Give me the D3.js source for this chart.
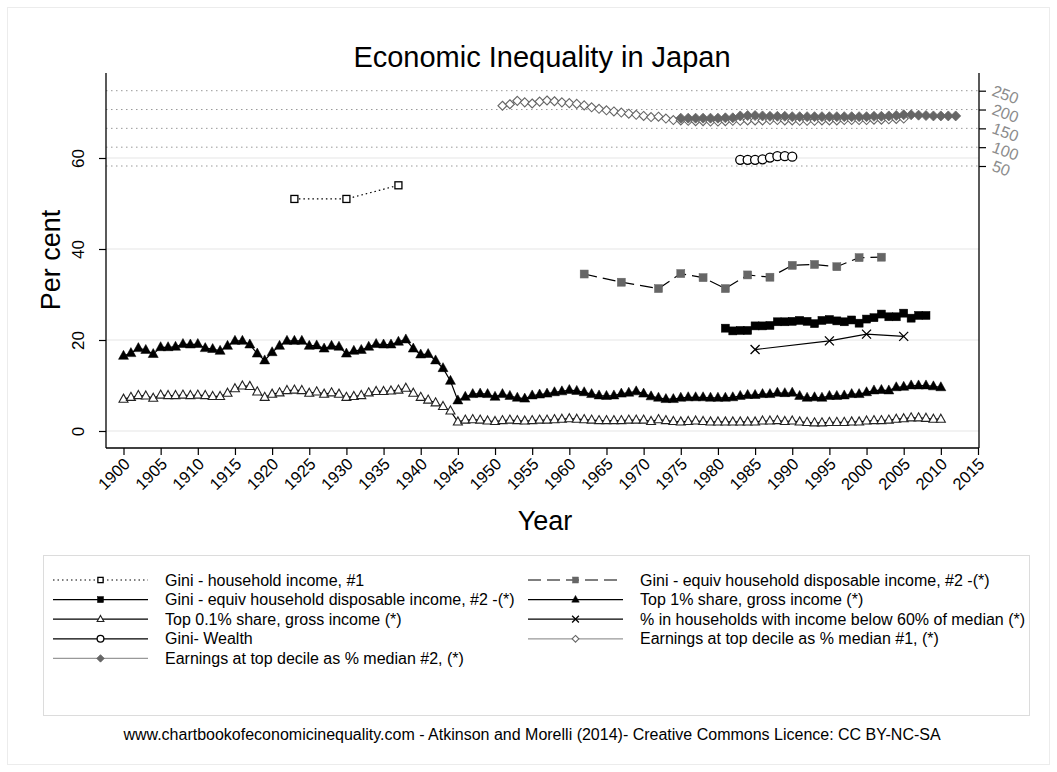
<!DOCTYPE html>
<html><head><meta charset="utf-8">
<script src="https://cdn.jsdelivr.net/npm/d3@7"></script>
<style>
html,body{margin:0;padding:0;background:#fff;}
svg{display:block;font-family:"Liberation Sans",Arial,Helvetica,sans-serif;}
</style></head>
<body><svg id="chart" width="1057" height="772"></svg>
<script>
// ---------- DATA ----------
const title = "Economic Inequality in Japan";
const xTicks = d3.range(1900, 2016, 5);
const yLeftTicks = [0, 20, 40, 60];
const yRightTicks = [50, 100, 150, 200, 250];

const giniHH1Years = [1923, 1930, 1937];
const giniHH1 = [51, 51, 54];

const giniEq2GreyYears = [1962, 1967, 1972, 1975, 1978, 1981, 1984, 1987, 1990, 1993, 1996, 1999, 2002];
const giniEq2Grey = [34.5, 32.7, 31.3, 34.6, 33.7, 31.3, 34.3, 33.8, 36.4, 36.6, 36.1, 38.1, 38.2];

const giniEq2BlackYears = d3.range(1981, 2009);
const giniEq2Black = [22.6, 22.0, 22.1, 22.1, 23.1, 23.1, 23.2, 24.0, 24.0, 24.1, 24.3, 24.1, 23.6, 24.3,
  24.5, 24.2, 24.0, 24.4, 23.7, 24.6, 24.9, 25.7, 25.1, 25.1, 25.9, 24.8, 25.4, 25.4];

const topYears = d3.range(1900, 2011);
const top1 = [16.5, 17.1, 18.2, 17.8, 16.9, 18.4, 18.4, 18.5, 19.1, 19.0, 19.1, 18.2, 18.0, 17.6, 18.7, 19.8, 19.8, 19.0, 17.0, 15.5,
  17.3, 18.7, 19.8, 19.8, 19.8, 18.7, 18.8, 18.1, 18.7, 18.5, 17.0, 17.6, 17.8, 18.5, 19.1, 19.0, 19.0, 19.6, 20.1, 18.1,
  16.8, 16.9, 15.5, 13.8, 11.0, 6.7,
  7.5, 8.1, 8.2, 8.1, 7.5, 8.1, 7.7, 7.3, 7.1, 7.8, 8.0, 8.2, 8.5, 8.7, 9.0, 8.8, 8.5, 8.1, 7.8, 7.7,
  7.8, 8.2, 8.4, 8.7, 8.2, 7.6, 7.3, 7.0, 7.0, 7.3, 7.4, 7.4, 7.4, 7.3, 7.3, 7.3, 7.4, 7.7, 7.9, 7.9,
  8.1, 8.1, 8.4,
  8.3, 8.4, 7.7, 7.3, 7.4, 7.3, 7.7, 7.7, 7.8, 8.1, 8.1, 8.5, 8.9, 9.0, 8.9, 9.6, 9.7, 10.0, 10.0, 10.0, 9.8, 9.6];
const top01 = [7.0, 7.4, 7.8, 7.7, 7.2, 7.9, 7.8, 7.8, 7.9, 7.8, 7.9, 7.8, 7.6, 7.6, 8.3, 9.3, 9.9, 9.8, 8.6, 7.4,
  8.1, 8.4, 8.9, 9.0, 8.9, 8.3, 8.6, 8.1, 8.4, 8.1, 7.4, 7.6, 7.8, 8.4, 8.7, 8.7, 8.8, 9.0, 9.4, 8.3,
  7.4, 6.8, 6.2, 5.4, 4.4, 2.0,
  2.4, 2.5, 2.4, 2.2, 2.1, 2.3, 2.4, 2.3, 2.2, 2.3, 2.4, 2.4, 2.5, 2.6, 2.7, 2.6, 2.5, 2.4, 2.3, 2.3,
  2.3, 2.3, 2.4, 2.4, 2.4, 2.1, 2.5, 2.3, 2.1, 2.0, 2.1, 2.2, 2.1, 2.0, 2.0, 2.0, 2.0, 2.0, 2.0, 2.0,
  2.2, 2.2, 2.3,
  2.1, 2.2, 2.0, 1.9, 1.8, 1.8, 1.9, 1.9, 1.9, 2.0, 2.0, 2.2, 2.3, 2.3, 2.4, 2.6, 2.7, 2.9, 2.9, 2.8, 2.6, 2.6];

const povertyYears = [1985, 1995, 2000, 2005];
const poverty = [17.9, 19.8, 21.3, 20.8];

const wealthYears = d3.range(1983, 1991);
const giniWealth = [59.6, 59.6, 59.6, 59.7, 60.1, 60.4, 60.4, 60.3];

const earn1Years = d3.range(1951, 2006);
const earn1 = [210, 214, 223, 219, 216, 221, 224, 222, 219, 217, 215, 211, 206, 202, 198, 195, 192, 189, 186, 183,
  180, 181, 176, 172, 171, 170, 169, 169, 168, 168, 169, 170, 170, 171, 171, 171, 172, 172, 171, 171,
  170, 170, 170, 171, 171, 171, 172, 172, 172, 172, 173, 173, 174, 175, 176];

const earn2Years = d3.range(1975, 2013);
const earn2 = [177, 177, 177, 177, 177, 177, 178, 178, 183, 184, 184, 183, 182, 182, 182, 181, 181, 181, 181, 181,
  181, 181, 181, 181, 181, 181, 182, 182, 183, 184, 186, 186, 185, 184, 183, 183, 183, 183];

const legendLabels = [
  "Gini - household income, #1",
  "Gini - equiv household disposable income, #2 -(*)",
  "Gini - equiv household disposable income, #2 -(*)",
  "Top 1% share, gross income (*)",
  "Top 0.1% share, gross income (*)",
  "% in households with income below 60% of median (*)",
  "Gini- Wealth",
  "Earnings at top decile as % median #1, (*)",
  "Earnings at top decile as % median #2, (*)"
];
const footer = "www.chartbookofeconomicinequality.com - Atkinson and Morelli (2014)- Creative Commons Licence: CC BY-NC-SA";

// ---------- LAYOUT ----------
const svg = d3.select("#chart");
const P = {left: 106, right: 979, top: 73, bottom: 448};
const x = d3.scaleLinear().domain([1900, 2015]).range([123.5, 978]);
const yL = d3.scaleLinear().domain([0, 60]).range([431, 158]);
const yR = d3.scaleLinear().domain([50, 250]).range([166, 90.7]);

// outer frame
svg.append("rect").attr("x", 7.5).attr("y", 7.5).attr("width", 1042).attr("height", 757)
  .attr("fill", "#fff").attr("stroke", "#ececec");

// title
svg.append("text").attr("x", 542).attr("y", 67).attr("text-anchor", "middle")
  .attr("font-size", 29).attr("fill", "#000").text(title);

// gridlines (left axis)
svg.append("g").selectAll("line").data(yLeftTicks).join("line")
  .attr("x1", P.left).attr("x2", P.right).attr("y1", d => yL(d)).attr("y2", d => yL(d))
  .attr("stroke", "#e6e6e6").attr("stroke-width", 1.2);
// gridlines (right axis, dotted)
svg.append("g").selectAll("line").data(yRightTicks).join("line")
  .attr("x1", P.left).attr("x2", P.right).attr("y1", d => yR(d)).attr("y2", d => yR(d))
  .attr("stroke", "#999").attr("stroke-width", 1).attr("stroke-dasharray", "1.5,3.5");

// left axis
const gL = svg.append("g").attr("transform", `translate(${P.left},0)`)
  .call(d3.axisLeft(yL).tickValues(yLeftTicks).tickSize(7).tickSizeOuter(0));
gL.select(".domain").remove();
gL.append("line").attr("x1", 0).attr("x2", 0).attr("y1", P.top).attr("y2", P.bottom).attr("stroke", "#000").attr("stroke-width", 1.3);
gL.selectAll(".tick line").attr("stroke", "#000").attr("stroke-width", 1.2);
gL.selectAll(".tick text").attr("transform", "rotate(-90)").attr("x", 0).attr("y", -22).attr("dy", 0)
  .attr("text-anchor", "middle").attr("font-size", 17).attr("fill", "#000").attr("font-family", null);

// right axis
const gR = svg.append("g").attr("transform", `translate(${P.right},0)`)
  .call(d3.axisRight(yR).tickValues(yRightTicks).tickSize(7).tickSizeOuter(0));
gR.select(".domain").remove();
gR.append("line").attr("x1", 0).attr("x2", 0).attr("y1", P.top).attr("y2", P.bottom).attr("stroke", "#000").attr("stroke-width", 1.3);
gR.selectAll(".tick line").attr("stroke", "#000").attr("stroke-width", 1.2);
gR.selectAll(".tick text").attr("x", 0).attr("dy", 0)
  .attr("transform", "translate(12,4) rotate(20)")
  .attr("text-anchor", "start").attr("font-size", 16).attr("fill", "#8c8c8c").attr("font-family", null);

// bottom axis
const gB = svg.append("g").attr("transform", `translate(0,${P.bottom})`)
  .call(d3.axisBottom(x).tickValues(xTicks).tickFormat(d3.format("d")).tickSize(7).tickSizeOuter(0));
gB.select(".domain").remove();
gB.append("line").attr("x1", P.left).attr("x2", P.right).attr("y1", 0).attr("y2", 0).attr("stroke", "#000").attr("stroke-width", 1.3);
gB.selectAll(".tick line").attr("stroke", "#000").attr("stroke-width", 1.2);
gB.selectAll(".tick text").attr("y", 0).attr("dy", 0)
  .attr("transform", "translate(7,17) rotate(-45)")
  .attr("text-anchor", "end").attr("font-size", 16.5).attr("fill", "#000").attr("font-family", null);

// axis titles
svg.append("text").attr("transform", "translate(60,260) rotate(-90)").attr("text-anchor", "middle")
  .attr("font-size", 27).text("Per cent");
svg.append("text").attr("x", 545).attr("y", 530).attr("text-anchor", "middle")
  .attr("font-size", 27).text("Year");

// ---------- MARKERS ----------
function marker(g, type, cx, cy, s) {
  if (type === "square") {
    return g.append("rect").attr("x", cx - s / 2).attr("y", cy - s / 2).attr("width", s).attr("height", s);
  } else if (type === "triangle") {
    const h = s * 0.9;
    return g.append("path").attr("d", `M${cx},${cy - h * 0.62}L${cx + s / 2},${cy + h * 0.38}L${cx - s / 2},${cy + h * 0.38}Z`);
  } else if (type === "diamond") {
    return g.append("path").attr("d", `M${cx},${cy - s / 2}L${cx + s / 2},${cy}L${cx},${cy + s / 2}L${cx - s / 2},${cy}Z`);
  } else if (type === "circle") {
    return g.append("circle").attr("cx", cx).attr("cy", cy).attr("r", s / 2);
  } else if (type === "x") {
    const r = s / 2;
    return g.append("path").attr("d", `M${cx - r},${cy - r}L${cx + r},${cy + r}M${cx - r},${cy + r}L${cx + r},${cy - r}`);
  }
}

const series = [
  {years: giniHH1Years, vals: giniHH1, y: yL, line: "#000", lw: 1.2, dash: "1.5,3", m: "square", size: 7, fill: "#fff", mstroke: "#000", msw: 1.3},
  {years: giniEq2GreyYears, vals: giniEq2Grey, y: yL, line: "#000", lw: 1.2, dash: "13,6", m: "square", size: 8, fill: "#666", mstroke: "#666", msw: 0.5},
  {years: giniEq2BlackYears, vals: giniEq2Black, y: yL, line: "#000", lw: 1.2, dash: null, m: "square", size: 8, fill: "#000", mstroke: "#000", msw: 0.5},
  {years: topYears, vals: top1, y: yL, line: "#000", lw: 1.2, dash: null, m: "triangle", size: 10, fill: "#000", mstroke: "#000", msw: 0.5},
  {years: topYears, vals: top01, y: yL, line: "#000", lw: 1.2, dash: null, m: "triangle", size: 9, fill: "#fff", mstroke: "#222", msw: 1.1},
  {years: povertyYears, vals: poverty, y: yL, line: "#000", lw: 1.2, dash: null, m: "x", size: 9, fill: "none", mstroke: "#000", msw: 1.3},
  {years: wealthYears, vals: giniWealth, y: yL, line: "#000", lw: 1.2, dash: null, m: "circle", size: 9, fill: "#fff", mstroke: "#000", msw: 1.3},
  {years: earn1Years, vals: earn1, y: yR, line: "#999", lw: 1.2, dash: null, m: "diamond", size: 9, fill: "#fff", mstroke: "#666", msw: 1.1},
  {years: earn2Years, vals: earn2, y: yR, line: "#999", lw: 1.2, dash: null, m: "diamond", size: 10, fill: "#666", mstroke: "#666", msw: 0.8}
];

const plotG = svg.append("g");
series.forEach(s => {
  const pts = s.years.map((yr, i) => [x(yr), s.y(s.vals[i])]);
  plotG.append("path").attr("d", d3.line()(pts)).attr("fill", "none")
    .attr("stroke", s.line).attr("stroke-width", s.lw).attr("stroke-dasharray", s.dash);
  const mg = plotG.append("g");
  pts.forEach(p => {
    marker(mg, s.m, p[0], p[1], s.size).attr("fill", s.fill).attr("stroke", s.mstroke).attr("stroke-width", s.msw);
  });
});

// ---------- LEGEND ----------
svg.append("rect").attr("x", 43.5).attr("y", 555.5).attr("width", 986).attr("height", 160)
  .attr("fill", "#fff").attr("stroke", "#dcdcdc");
const rowY = [580, 599.6, 619.2, 638.8, 658.4];
const colX = [53, 528];
series.forEach((s, i) => {
  const col = i % 2, row = Math.floor(i / 2);
  const lx = colX[col], ly = rowY[row];
  const g = svg.append("g");
  g.append("line").attr("x1", lx).attr("x2", lx + 95).attr("y1", ly).attr("y2", ly)
    .attr("stroke", s.line).attr("stroke-width", s.lw).attr("stroke-dasharray", s.dash);
  marker(g, s.m, lx + 47.5, ly, s.size * 0.75).attr("fill", s.fill).attr("stroke", s.mstroke).attr("stroke-width", s.msw);
  g.append("text").attr("x", lx + 112).attr("y", ly + 5.5).attr("font-size", 16).attr("fill", "#000").text(legendLabels[i]);
});

// footer
svg.append("text").attr("x", 532).attr("y", 740).attr("text-anchor", "middle")
  .attr("font-size", 16).attr("fill", "#000").text(footer);
</script>
</body></html>
